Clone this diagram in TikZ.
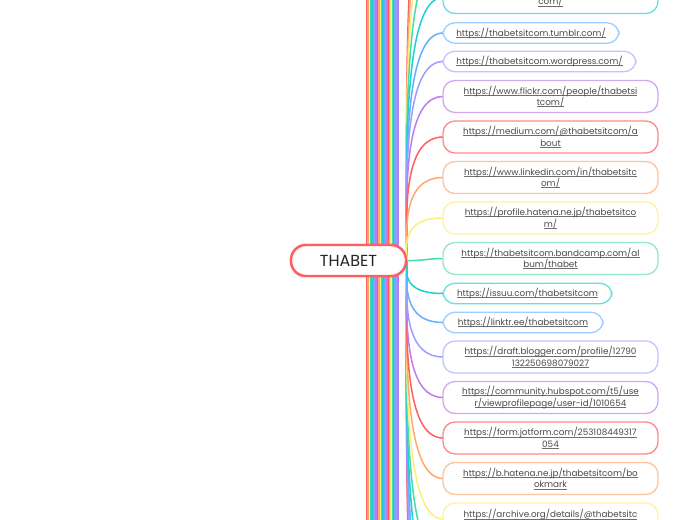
\documentclass[tikz,border=0pt]{standalone}
\usepackage{fontspec}
\setmainfont{Poppins}
\usetikzlibrary{calc}
\definecolor{mc0}{HTML}{FF8A85}
\definecolor{mc1}{HTML}{FFC39A}
\definecolor{mc2}{HTML}{FFF3A0}
\definecolor{mc3}{HTML}{93E8C8}
\definecolor{mc4}{HTML}{6ADDE0}
\definecolor{mc5}{HTML}{9CCFFF}
\definecolor{mc6}{HTML}{C4C4FF}
\definecolor{mc7}{HTML}{D2A8F5}
\definecolor{wc0}{HTML}{FF5F5F}
\definecolor{wc1}{HTML}{FFA96E}
\definecolor{wc2}{HTML}{FFEF7A}
\definecolor{wc3}{HTML}{48DCA6}
\definecolor{wc4}{HTML}{1FCFD4}
\definecolor{wc5}{HTML}{5FB2FF}
\definecolor{wc6}{HTML}{9D9DFF}
\definecolor{wc7}{HTML}{B97FF0}
\definecolor{inkc}{HTML}{4A4A4A}
\newcommand{\lnk}[1]{\setbox0=\hbox{#1}\rlap{\color{inkc!80}\rule[-1.2pt]{\wd0}{0.5pt}}\box0 }
\tikzset{
  linkbox/.style={draw,fill=white,line width=1.3pt,rounded corners=12pt,align=center,inner sep=0pt,
    text=inkc,font=\fontsize{8.8}{11.5}\selectfont,anchor=center},
  twoline/.style={minimum width=215pt,minimum height=32pt},
  oneline/.style={minimum height=20.5pt},
  rootbox/.style={draw=wc0,fill=white,line width=2.4pt,rounded corners=15pt,minimum width=115pt,minimum height=31pt,
    inner sep=0pt,text=black!85,font=\fontsize{16}{18}\selectfont},
  wire/.style={line width=1.5pt},
  stripe/.style={line width=1.9pt}
}
\begin{document}
\begin{tikzpicture}[x=1pt,y=-1pt]
\useasboundingbox (0,0) rectangle (697,520);
\clip (0,0) rectangle (697,520);
\fill[white] (0,0) rectangle (697,520);
\foreach \j in {23,22,...,0}{
  \pgfmathtruncatemacro{\ci}{mod(7-\j+800,8)}
  \draw[stripe,draw=wc\ci] ({398-1.35*\j},-5) -- ({398-1.35*\j},525);
}
\coordinate (u1) at (443,-44);
\coordinate (u2) at (443,-85);
\coordinate (u3) at (443,-125);
\coordinate (u4) at (443,-166);
\coordinate (d1) at (443,560);
\coordinate (d2) at (443,600);
\coordinate (d3) at (443,640);
\coordinate (d4) at (443,680);
\coordinate (d5) at (443,720);
\coordinate (d6) at (443,760);
\node[rootbox] (root) at (348.5,260.5) {THABET};
\path (443,-2.5) coordinate (a0w) (443,33) coordinate (a1w) (443,61.5) coordinate (a2w) (443,96.5) coordinate (a3w)
 (443,137) coordinate (a4w) (443,177.5) coordinate (a5w) (443,218) coordinate (a6w)
 (443,293.5) coordinate (a8w) (443,322.5) coordinate (a9w) (443,357) coordinate (a10w) (443,397.5) coordinate (a11w)
 (443,438) coordinate (a12w) (443,478.5) coordinate (a13w) (443,519) coordinate (a14w);
\foreach \e/\c in {u4/wc0,u3/wc1,u2/wc2,u1/wc3,a0w/wc4,a1w/wc5,a2w/wc6,a3w/wc7,a4w/wc0,a5w/wc1,a6w/wc2,
  d6/wc0,d5/wc7,d4/wc6,d3/wc5,d2/wc4,d1/wc3,a14w/wc2,a13w/wc1,a12w/wc0,a11w/wc7,a10w/wc6,a9w/wc5,a8w/wc4}{
  \draw[wire,draw=\c] let \p1=(\e) in (root.east) .. controls ($(404pt,-260pt)!0.6!(404pt,\y1)$) and (410pt,\y1) .. (\e);
}
\node[linkbox,twoline,draw=mc4] (a0) at (550.5,-2.5) {\phantom{x}\\\lnk{com/}};
\node[linkbox,oneline,draw=mc5,minimum width=176pt] (a1) at (531,33) {\lnk{https://thabetsitcom.tumblr.com/}};
\node[linkbox,oneline,draw=mc6,minimum width=193pt] (a2) at (539.5,61.5) {\lnk{https://thabetsitcom.wordpress.com/}};
\node[linkbox,twoline,draw=mc7] (a3) at (550.5,96.5) {\lnk{https://www.flickr.com/people/thabetsi}\\\lnk{tcom/}};
\node[linkbox,twoline,draw=mc0] (a4) at (550.5,137) {\lnk{https://medium.com/@thabetsitcom/a}\\\lnk{bout}};
\node[linkbox,twoline,draw=mc1] (a5) at (550.5,177.5) {\lnk{https://www.linkedin.com/in/thabetsitc}\\\lnk{om/}};
\node[linkbox,twoline,draw=mc2] (a6) at (550.5,218) {\lnk{https://profile.hatena.ne.jp/thabetsitco}\\\lnk{m/}};
\node[linkbox,twoline,draw=mc3] (a7) at (550.5,258.5) {\lnk{https://thabetsitcom.bandcamp.com/al}\\\lnk{bum/thabet}};
\node[linkbox,oneline,draw=mc4,minimum width=169pt] (a8) at (527.5,293.5) {\lnk{https://issuu.com/thabetsitcom}};
\node[linkbox,oneline,draw=mc5,minimum width=160pt] (a9) at (523,322.5) {\lnk{https://linktr.ee/thabetsitcom}};
\node[linkbox,twoline,draw=mc6] (a10) at (550.5,357) {\lnk{https://draft.blogger.com/profile/12790}\\\lnk{132250698079027}};
\node[linkbox,twoline,draw=mc7] (a11) at (550.5,397.5) {\lnk{https://community.hubspot.com/t5/use}\\\lnk{r/viewprofilepage/user-id/1010654}};
\node[linkbox,twoline,draw=mc0] (a12) at (550.5,438) {\lnk{https://form.jotform.com/253108449317}\\\lnk{054}};
\node[linkbox,twoline,draw=mc1] (a13) at (550.5,478.5) {\lnk{https://b.hatena.ne.jp/thabetsitcom/bo}\\\lnk{okmark}};
\node[linkbox,twoline,draw=mc2,minimum height=33pt] (a14) at (550.5,519.5) {\lnk{https://archive.org/details/@thabetsitc}\\\phantom{x}};
\draw[wire,draw=wc3] (root.east) .. controls (420,261) and (430,258.5) .. (a7.west);
\node[rootbox] at (root) {THABET};
\end{tikzpicture}
\end{document}
